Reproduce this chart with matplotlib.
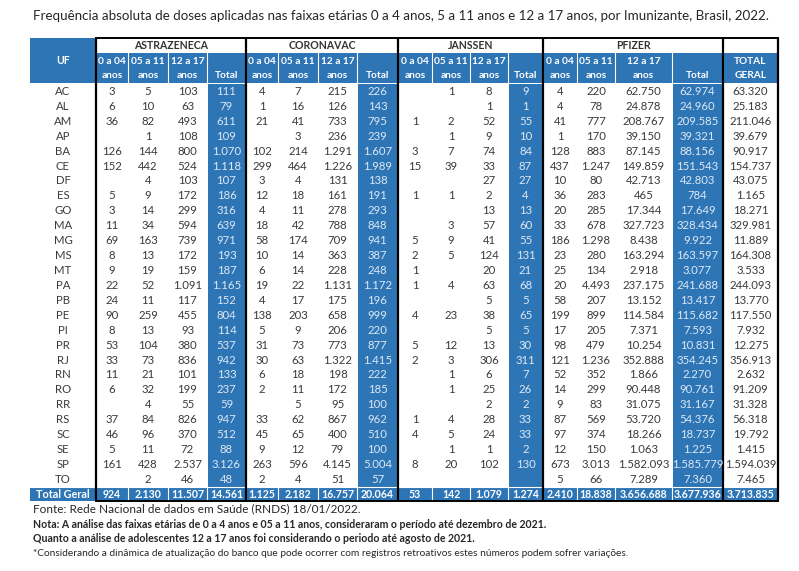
import matplotlib.pyplot as plt
from matplotlib.patches import Rectangle

plt.rcParams['font.family'] = ['Lato', 'DejaVu Sans']

# ---- data -------------------------------------------------------------
ufs = ['AC', 'AL', 'AM', 'AP', 'BA', 'CE', 'DF', 'ES', 'GO', 'MA', 'MG', 'MS', 'MT', 'PA',
       'PB', 'PE', 'PI', 'PR', 'RJ', 'RN', 'RO', 'RR', 'RS', 'SC', 'SE', 'SP', 'TO']

astra_0a4 = [3, 6, 36, None, 126, 152, None, 5, 3, 11, 69, 8, 9, 22, 24, 90, 8, 53, 33, 11, 6, None, 37, 46, 5, 161, None]
astra_5a11 = [5, 10, 82, 1, 144, 442, 4, 9, 14, 34, 163, 13, 19, 52, 11, 259, 13, 104, 73, 21, 32, 4, 84, 96, 11, 428, 2]
astra_12a17 = [103, 63, 493, 108, 800, 524, 103, 172, 299, 594, 739, 172, 159, 1091, 117, 455, 93, 380, 836, 101, 199, 55, 826, 370, 72, 2537, 46]
astra_total = [111, 79, 611, 109, 1070, 1118, 107, 186, 316, 639, 971, 193, 187, 1165, 152, 804, 114, 537, 942, 133, 237, 59, 947, 512, 88, 3126, 48]

corona_0a4 = [4, 1, 21, None, 102, 299, 3, 12, 4, 18, 58, 10, 6, 19, 4, 138, 5, 31, 30, 6, 2, None, 33, 45, 9, 263, 2]
corona_5a11 = [7, 16, 41, 3, 214, 464, 4, 18, 11, 42, 174, 14, 14, 22, 17, 203, 9, 73, 63, 18, 11, 5, 62, 65, 12, 596, 4]
corona_12a17 = [215, 126, 733, 236, 1291, 1226, 131, 161, 278, 788, 709, 363, 228, 1131, 175, 658, 206, 773, 1322, 198, 172, 95, 867, 400, 79, 4145, 51]
corona_total = [226, 143, 795, 239, 1607, 1989, 138, 191, 293, 848, 941, 387, 248, 1172, 196, 999, 220, 877, 1415, 222, 185, 100, 962, 510, 100, 5004, 57]

janssen_0a4 = [None, None, 1, None, 3, 15, None, 1, None, None, 5, 2, 1, 1, None, 4, None, 5, 2, None, None, None, 1, 4, None, 8, None]
janssen_5a11 = [1, None, 2, 1, 7, 39, None, 1, None, 3, 9, 5, None, 4, None, 23, None, 12, 3, 1, 1, None, 4, 5, 1, 20, None]
janssen_12a17 = [8, 1, 52, 9, 74, 33, 27, 2, 13, 57, 41, 124, 20, 63, 5, 38, 5, 13, 306, 6, 25, 2, 28, 24, 1, 102, None]
janssen_total = [9, 1, 55, 10, 84, 87, 27, 4, 13, 60, 55, 131, 21, 68, 5, 65, 5, 30, 311, 7, 26, 2, 33, 33, 2, 130, None]

pfizer_0a4 = [4, 4, 41, 1, 128, 437, 10, 36, 20, 33, 186, 23, 25, 20, 58, 199, 17, 98, 121, 52, 14, 9, 87, 97, 12, 673, 5]
pfizer_5a11 = [220, 78, 777, 170, 883, 1247, 80, 283, 285, 678, 1298, 280, 134, 4493, 207, 899, 205, 479, 1236, 352, 299, 83, 569, 374, 150, 3013, 66]
pfizer_12a17 = [62750, 24878, 208767, 39150, 87145, 149859, 42713, 465, 17344, 327723, 8438, 163294, 2918, 237175, 13152,
                114584, 7371, 10254, 352888, 1866, 90448, 31075, 53720, 18266, 1063, 1582093, 7289]
pfizer_total = [62974, 24960, 209585, 39321, 88156, 151543, 42803, 784, 17649, 328434, 9922, 163597, 3077, 241688, 13417,
                115682, 7593, 10831, 354245, 2270, 90761, 31167, 54376, 18737, 1225, 1585779, 7360]

total_geral = [63320, 25183, 211046, 39679, 90917, 154737, 43075, 1165, 18271, 329981, 11889, 164308, 3533, 244093, 13770,
               117550, 7932, 12275, 356913, 2632, 91209, 31328, 56318, 19792, 1415, 1594039, 7465]

# last row "Total Geral"
totals_row = [924, 2130, 11507, 14561, 1125, 2182, 16757, 20064, 53, 142, 1079, 1274,
              2410, 18838, 3656688, 3677936, 3713835]

vaccines = ['ASTRAZENECA', 'CORONAVAC', 'JANSSEN', 'PFIZER']
age_labels = ['0 a 04\nanos', '05 a 11\nanos', '12 a 17\nanos', '\nTotal']

title = ('Frequência absoluta de doses aplicadas nas faixas etárias 0 a 4 anos, 5 a 11 anos e 12 a 17 anos, '
         'por Imunizante, Brasil, 2022.')
notes = [
    ('Fonte: Rede Nacional de dados em Saúde (RNDS) 18/01/2022.', 'normal', 8.5),
    ('Nota: A análise das faixas etárias de 0 a 4 anos e 05 a 11 anos, consideraram o período até dezembro de 2021.', 'bold', 7.6),
    ('Quanto a análise de adolescentes 12 a 17 anos foi considerando o periodo até agosto de 2021.', 'bold', 7.6),
    ('*Considerando a dinâmica de atualização do banco que pode ocorrer com registros retroativos estes números podem sofrer variações.', 'normal', 7.3),
]

columns = [astra_0a4, astra_5a11, astra_12a17, astra_total,
           corona_0a4, corona_5a11, corona_12a17, corona_total,
           janssen_0a4, janssen_5a11, janssen_12a17, janssen_total,
           pfizer_0a4, pfizer_5a11, pfizer_12a17, pfizer_total,
           total_geral]

# ---- layout (pixels) ---------------------------------------------------
BLUE = '#2E75B6'
TXT = '#3A3A3A'
TOTAL_TXT = '#DCE8F5'

col_edges = [30, 96, 128, 168, 207, 246, 278, 318, 357, 398, 432, 470, 508, 543, 577, 615, 672, 723, 778]
top = 38
group_bottom = 53
head_bottom = 83
row_h = 14.92
data_top = 84
n = len(ufs)
total_top = data_top + n * row_h
total_bottom = total_top + 14.5


def fmt(v):
    if v is None:
        return ''
    return f'{v:,}'.replace(',', '.')


fig = plt.figure(figsize=(7.99, 5.71), dpi=100)
ax = fig.add_axes([0, 0, 1, 1])
ax.set_xlim(0, 799)
ax.set_ylim(571, 0)
ax.axis('off')

ax.text(33, 16, title, fontsize=9.6, color='#262626', va='center', ha='left')

# UF header cell
ax.add_patch(Rectangle((col_edges[0], top), col_edges[1] - col_edges[0], head_bottom - top, color=BLUE, lw=0))
ax.text((col_edges[0] + col_edges[1]) / 2, 61, 'UF', color='white', fontsize=7.6, fontweight='bold',
        ha='center', va='center')

# group headers
for g, name in enumerate(vaccines):
    x0, x1 = col_edges[1 + 4 * g], col_edges[5 + 4 * g]
    ax.text((x0 + x1) / 2, 45.5, name, color='#333333', fontsize=7.6, fontweight='bold', ha='center', va='center')

# sub headers
for c in range(17):
    x0, x1 = col_edges[c + 1], col_edges[c + 2]
    ax.add_patch(Rectangle((x0, group_bottom), x1 - x0, head_bottom - group_bottom, color=BLUE, lw=0))
    label = age_labels[c % 4] if c < 16 else 'TOTAL\nGERAL'
    l1, l2 = label.split('\n')
    ax.text((x0 + x1) / 2, 61, l1, color='white', fontsize=7.3, fontweight='bold', ha='center', va='center')
    ax.text((x0 + x1) / 2, 76, l2, color='white', fontsize=7.3, fontweight='bold', ha='center', va='center')
    ax.plot([x0, x0], [group_bottom, head_bottom], color='white', lw=0.8)

# blue total columns
for c in [3, 7, 11, 15]:
    x0, x1 = col_edges[c + 1], col_edges[c + 2]
    ax.add_patch(Rectangle((x0 + 1, data_top), x1 - x0 - 2, n * row_h, color=BLUE, lw=0))

# data rows
for i, uf in enumerate(ufs):
    yc = data_top + (i + 0.5) * row_h
    ax.text((col_edges[0] + col_edges[1]) / 2, yc, uf, color=TXT, fontsize=8.2, ha='center', va='center')
    for c, col in enumerate(columns):
        x0, x1 = col_edges[c + 1], col_edges[c + 2]
        color = TOTAL_TXT if c in (3, 7, 11, 15) else TXT
        ax.text((x0 + x1) / 2, yc, fmt(col[i]), color=color, fontsize=8.2, ha='center', va='center')

# total geral row
ax.add_patch(Rectangle((col_edges[0], total_top), col_edges[-1] - col_edges[0], total_bottom - total_top,
                       color=BLUE, lw=0))
yc = (total_top + total_bottom) / 2
ax.text((col_edges[0] + col_edges[1]) / 2, yc, 'Total Geral', color='white', fontsize=7.8, fontweight='bold',
        ha='center', va='center')
for c, v in enumerate(totals_row):
    x0, x1 = col_edges[c + 1], col_edges[c + 2]
    ax.text((x0 + x1) / 2, yc, fmt(v), color='white', fontsize=7.6, fontweight='bold', ha='center', va='center')
    ax.plot([x0, x0], [total_top, total_bottom], color='white', lw=0.8)
ax.plot([col_edges[0], col_edges[-1]], [total_top, total_top], color='white', lw=0.8)

# thick black borders
for x in [col_edges[1], col_edges[5], col_edges[9], col_edges[13], col_edges[17], col_edges[18]]:
    ax.plot([x, x], [top, total_bottom], color='black', lw=1.6, solid_capstyle='butt')
ax.plot([col_edges[1], col_edges[-1]], [top, top], color='black', lw=1.4)
ax.plot([col_edges[1], col_edges[-1]], [total_bottom, total_bottom], color='black', lw=1.4)

# notes
for k, (txt, w, size) in enumerate(notes):
    ax.text(33, 509 + 15 * k, txt, fontsize=size, fontweight=w, color='#262626', ha='left', va='center')

fig.savefig('out.png', dpi=100)
